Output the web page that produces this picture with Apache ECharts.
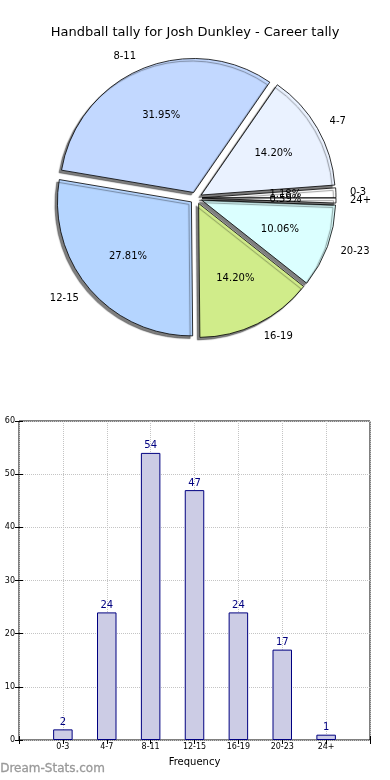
<!DOCTYPE html>
<html>
<head>
<meta charset="utf-8">
<script src="https://cdn.jsdelivr.net/npm/echarts@6/dist/echarts.min.js"></script>
<style>
html,body{margin:0;padding:0;background:#fff;}
#c{width:390px;height:780px;}
</style>
</head>
<body>
<div id="c"></div>
<script>
var titleText = 'Handball tally for Josh Dunkley - Career tally';
var categories = ['0-3', '4-7', '8-11', '12-15', '16-19', '20-23', '24+'];
var values = [2, 24, 54, 47, 24, 17, 1];
var sliceColors = ['#ffffff', '#eaf2ff', '#c2d8ff', '#b5d5ff', '#d0ec8a', '#dbffff', '#ffffff'];
var yTicks = [0, 10, 20, 30, 40, 50, 60];
var xAxisName = 'Frequency';
var watermark = 'Dream-Stats.com';

var total = values.reduce(function (a, b) { return a + b; }, 0);
var FONT = 'DejaVu Sans';
var R = 134;
var center = [196, 198];

var pieData = categories.map(function (c, i) {
  return { name: c, value: values[i], selected: true, itemStyle: { color: sliceColors[i] } };
});
var pctData = categories.map(function (c, i) {
  return { name: c, value: values[i], selected: true };
});
var barData = values.map(function (v, i) { return [i + 1, v]; });

var chart = echarts.init(document.getElementById('c'), null, { renderer: 'canvas' });
chart.setOption({
  animation: false,
  backgroundColor: '#ffffff',
  title: {
    text: titleText, left: 'center', top: 21,
    textStyle: { fontFamily: FONT, fontSize: 13, fontWeight: 'normal', color: '#000' }
  },
  graphic: [{
    type: 'text', left: 0, top: 763,
    style: { text: watermark, fontFamily: FONT, fontSize: 12, fontWeight: 'normal', fill: '#999999', stroke: '#999999', lineWidth: 0.3 }
  }],
  grid: {
    left: 19, right: 20, top: 421, bottom: 40,
    show: true, borderColor: '#000', borderWidth: 1, backgroundColor: 'transparent'
  },
  xAxis: [{
    type: 'value', min: 0, max: 8, interval: 1,
    name: xAxisName, nameLocation: 'middle', nameGap: 17,
    nameTextStyle: { fontFamily: FONT, fontSize: 10, color: '#000' },
    axisLine: { show: false },
    axisTick: { show: true, inside: true, length: 4, lineStyle: { color: '#000' } },
    axisLabel: {
      margin: 3, fontFamily: FONT, fontSize: 8, color: '#000',
      formatter: function (v) { return categories[v - 1] || ''; }
    },
    splitLine: { show: true, lineStyle: { color: '#c4c4c4', type: 'dotted', width: 1 } }
  }, {
    type: 'value', min: 0, max: 8, interval: 1, position: 'top',
    axisLine: { show: false },
    axisTick: { show: true, inside: true, length: 4, lineStyle: { color: '#000' } },
    axisLabel: { show: false }, splitLine: { show: false }
  }],
  yAxis: [{
    type: 'value', min: yTicks[0], max: yTicks[yTicks.length - 1], interval: 10,
    axisLine: { show: false },
    axisTick: { show: true, inside: true, length: 4, lineStyle: { color: '#000' } },
    axisLabel: { margin: 4, fontFamily: FONT, fontSize: 8, color: '#000' },
    splitLine: { show: true, lineStyle: { color: '#c4c4c4', type: 'dotted', width: 1 } }
  }, {
    type: 'value', min: yTicks[0], max: yTicks[yTicks.length - 1], interval: 10, position: 'right',
    axisLine: { show: false },
    axisTick: { show: true, inside: true, length: 4, lineStyle: { color: '#000' } },
    axisLabel: { show: false }, splitLine: { show: false }
  }],
  series: [{
    type: 'bar', xAxisIndex: 0, yAxisIndex: 0,
    data: barData, barWidth: 19.5,
    itemStyle: { color: '#ccccE5', borderColor: '#000080', borderWidth: 1 },
    label: {
      show: true, position: 'top', distance: 2,
      fontFamily: FONT, fontSize: 10, color: '#000080',
      formatter: function (p) { return p.value[1]; }
    },
    z: 3
  }, {
    type: 'pie', radius: R, center: center,
    startAngle: 0, clockwise: false,
    selectedMode: 'multiple', selectedOffset: 6,
    avoidLabelOverlap: false,
    labelLayout: { hideOverlap: false },
    data: pieData,
    itemStyle: {
      borderColor: '#000', borderWidth: 0.8,
      shadowBlur: 1, shadowOffsetX: -2.5, shadowOffsetY: 2.5, shadowColor: 'rgba(0,0,0,0.5)'
    },
    label: {
      show: true, position: 'outside', distanceToLabelLine: 0,
      fontFamily: FONT, fontSize: 10, color: '#000',
      formatter: '{b}'
    },
    labelLine: { show: false, length: 14, length2: 0 },
    emphasis: { disabled: true },
    silent: true
  }, {
    type: 'pie', radius: R * 1.2, center: center,
    startAngle: 0, clockwise: false,
    selectedMode: 'multiple', selectedOffset: 6,
    avoidLabelOverlap: false,
    labelLayout: { hideOverlap: false },
    data: pctData,
    itemStyle: { color: 'rgba(0,0,0,0)', borderWidth: 0 },
    label: {
      show: true, position: 'inside',
      fontFamily: FONT, fontSize: 10, color: '#000',
      formatter: function (p) { return (p.value / total * 100).toFixed(2) + '%'; }
    },
    labelLine: { show: false },
    emphasis: { disabled: true },
    silent: true, z: 5
  }]
});
</script>
</body>
</html>
